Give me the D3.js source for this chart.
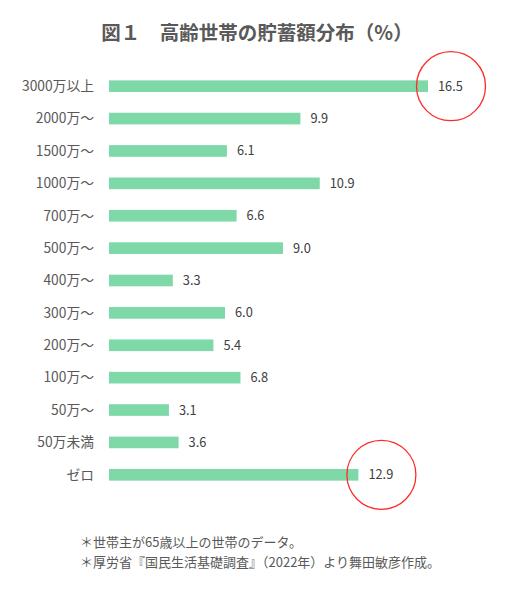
<!DOCTYPE html>
<html><head><meta charset="utf-8">
<script src="https://cdn.jsdelivr.net/npm/d3@7/dist/d3.min.js"></script>
<style>
body{margin:0;background:#fff;}
text{font-family:"Noto Sans CJK JP","Noto Sans",sans-serif;}
</style></head>
<body><svg id="c" width="515" height="600"></svg>
<script>
const categories = ["3000万以上","2000万〜","1500万〜","1000万〜","700万〜","500万〜","400万〜","300万〜","200万〜","100万〜","50万〜","50万未満","ゼロ"];
const values = [16.5,9.9,6.1,10.9,6.6,9.0,3.3,6.0,5.4,6.8,3.1,3.6,12.9];
const highlighted = ["3000万以上","ゼロ"];
const title = "図１　高齢世帯の貯蓄額分布（%）";
const notes = ["＊世帯主が65歳以上の世帯のデータ。","＊厚労省『国民生活基礎調査』（2022年）より舞田敏彦作成。"];

const svg = d3.select("#c");
const x = d3.scaleLinear().domain([0,16.5]).range([109,428]);
const y = d3.scaleBand().domain(categories).range([70,491]).paddingInner(0.64).paddingOuter(0.32);
const textColor = "#595959";

svg.append("text").attr("x",257).attr("y",40).attr("text-anchor","middle")
  .attr("font-size",19.5).attr("font-weight","bold").attr("fill",textColor).text(title);

const rows = categories.map((c,i)=>({c,v:values[i]}));

svg.selectAll("rect.bar").data(rows).join("rect").attr("class","bar")
  .attr("x",x(0)).attr("y",d=>y(d.c)).attr("height",y.bandwidth())
  .attr("width",d=>x(d.v)-x(0)).attr("fill","#7fd8a7");

svg.selectAll("text.cat").data(rows).join("text").attr("class","cat")
  .attr("x",94).attr("y",d=>y(d.c)+y.bandwidth()/2).attr("dy","0.35em")
  .attr("text-anchor","end").attr("font-size",13.8).attr("fill",textColor).text(d=>d.c);

svg.selectAll("text.val").data(rows).join("text").attr("class","val")
  .attr("x",d=>x(d.v)+10).attr("y",d=>y(d.c)+y.bandwidth()/2).attr("dy","0.35em")
  .attr("font-size",12.8).attr("fill","#404040").text(d=>d.v.toFixed(1));

svg.selectAll("circle.hl").data(rows.filter(d=>highlighted.includes(d.c))).join("circle").attr("class","hl")
  .attr("cx",d=>x(d.v)+23).attr("cy",d=>y(d.c)+y.bandwidth()/2).attr("r",34.5)
  .attr("fill","none").attr("stroke","#ff2a2a").attr("stroke-width",1.3);

svg.selectAll("text.note").data(notes).join("text").attr("class","note")
  .attr("x",80).attr("y",(d,i)=>542+i*20).attr("dy","0.35em")
  .attr("font-size",13).attr("fill",textColor).text(d=>d);
</script></body></html>
